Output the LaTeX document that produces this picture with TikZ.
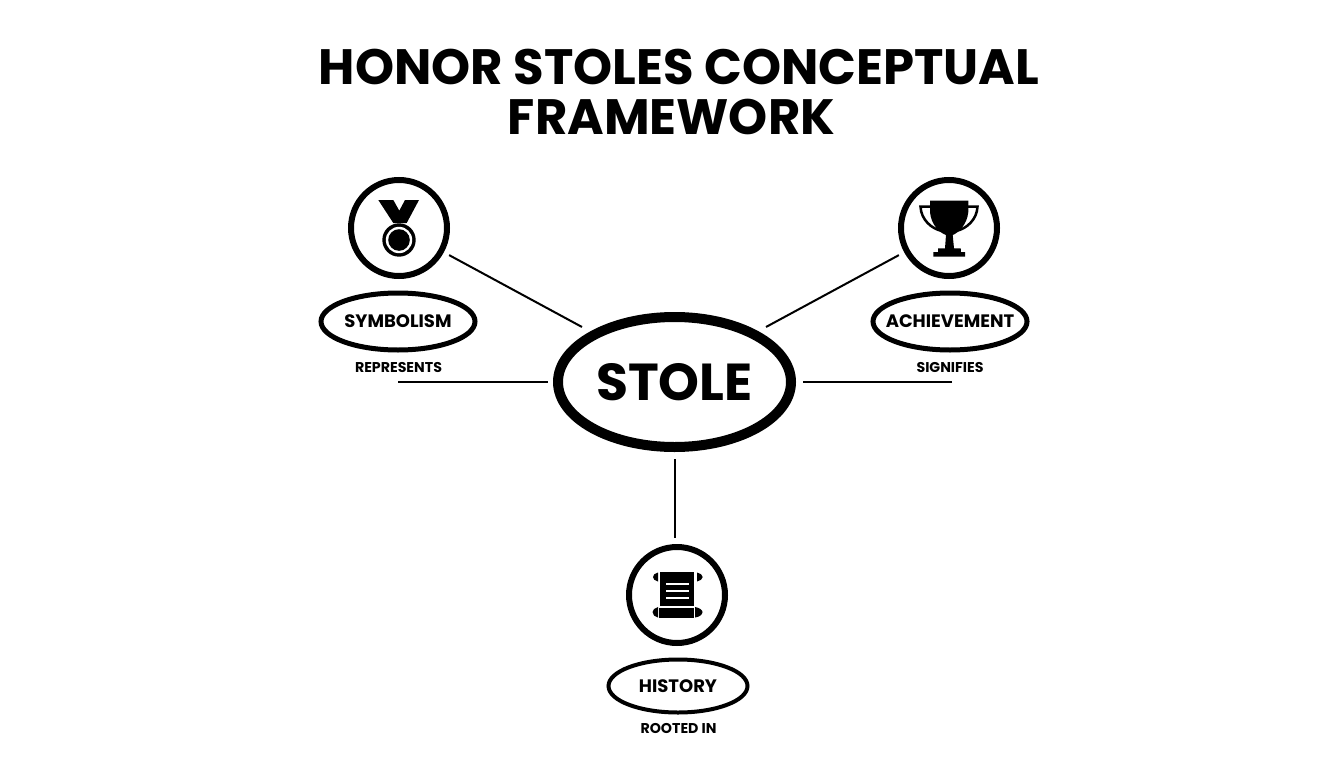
\documentclass[tikz,border=0pt]{standalone}
\usepackage{fontspec}
\setmainfont{Poppins}
\usetikzlibrary{shapes.geometric}
\tikzset{
  x=1pt,y=-1pt,
  link/.style={line width=2pt,black},
  iconring/.style={circle,draw,line width=6pt,minimum size=96pt,inner sep=0pt},
  termoval/.style={ellipse,draw,line width=5pt,inner sep=0pt,font=\bfseries\fontsize{18}{18}\selectfont},
  caption/.style={inner sep=0pt,font=\fontsize{14.2}{15}\selectfont\bfseries}
}
\begin{document}
\begin{tikzpicture}
\useasboundingbox (0,0) rectangle (1344,768);
\node (T1) at (679,67) [inner sep=0pt,font=\bfseries\fontsize{49.7}{50}\selectfont] {HONOR STOLES CONCEPTUAL};
\node (T2) at (671.5,117) [inner sep=0pt,font=\bfseries\fontsize{49.7}{50}\selectfont] {FRAMEWORK};
\node (S) at (674.5,382) [ellipse,draw,line width=10pt,minimum width=233pt,minimum height=130pt,inner sep=0pt,font=\bfseries\fontsize{52}{52}\selectfont] {STOLE};
\node (MC) at (399,228) [iconring] {};
\node (TC) at (949,228) [iconring] {};
\node (RC) at (677,595) [iconring] {};
\node (SY) at (398,321.5) [termoval,minimum width=154pt,minimum height=57pt] {\makebox[0pt]{SYMBOLISM}};
\node (AC) at (950,321.5) [termoval,minimum width=154pt,minimum height=57pt] {\makebox[0pt]{ACHIEVEMENT}};
\node (HI) at (678,686) [termoval,line width=4pt,minimum width=139pt,minimum height=53pt] {\makebox[0pt]{HISTORY}};
\node (RE) at (398.5,367) [caption] {REPRESENTS};
\node (SI) at (950,367) [caption] {SIGNIFIES};
\node (RO) at (678.5,728) [caption] {ROOTED IN};
\coordinate (RL) at (398,382);
\coordinate (RR) at (952,382);
\coordinate (SL) at (582,327);
\coordinate (SR) at (766,327);
\draw [link,shorten <=6pt] (MC) -- (SL);
\draw [link,shorten <=6pt] (TC) -- (SR);
\draw [link,shorten >=5pt] (RL) -- (S.180);
\draw [link,shorten >=7pt] (RR) -- (S.0);
\draw [link,shorten <=7pt,shorten >=6pt] (S.270) -- (S.270 |- RC.90);
% medal
\fill (378.3,200) -- (393.3,200) -- (399.3,210.7) -- (405,200) -- (419,200) -- (406.7,223) -- (393.3,223) -- cycle;
\fill (399,240) circle (16.7);
\fill [white] (399,240) circle (13.2);
\fill (399,240) circle (10.8);
% trophy
\draw [line width=2.5pt] (931,206.5) -- (920.5,206.5) .. controls (921,220) and (932,229) .. (942,231);
\draw [line width=2.5pt] (967,206.5) -- (977.5,206.5) .. controls (977,220) and (966,229) .. (956,231);
\fill (930,200.7) -- (968.3,200.7) -- (968.3,212) .. controls (967,225) and (958,233) .. (952.7,235) -- (954,248.3) -- (960.7,248.3) -- (961,252) -- (965,252) -- (965,256.7) -- (933.3,256.7) -- (933.3,252) -- (938,252) -- (938,248.3) -- (945,248.3) -- (946,235) .. controls (940,233) and (931,225) .. (930,212) -- cycle;
% scroll
\fill (660,571.7) rectangle (694,605.7);
\fill (659.3,607.7) rectangle (694,617.7);
\fill [white] (665.7,582.5) rectangle (689.3,584.5);
\fill [white] (665.7,589.5) rectangle (689.3,591.5);
\fill [white] (665.7,597) rectangle (689.3,599);
\fill (658,572.5) -- (658,581.5) .. controls (655,581) and (653,579) .. (653,577) .. controls (653,575) and (655,573) .. (658,572.5) -- cycle;
\fill (697,572.5) -- (697,581.5) .. controls (700,581) and (702.7,579) .. (702.7,577) .. controls (702.7,575) and (700,573) .. (697,572.5) -- cycle;
\fill (658,607) -- (658,617.5) .. controls (655,617) and (652.5,615) .. (652.5,612) .. controls (652.5,610) and (655,607.5) .. (658,607) -- cycle;
\fill (695,607) -- (695,617.5) .. controls (699,617) and (702.5,615) .. (702.5,612) .. controls (702.5,610) and (699,607.5) .. (695,607) -- cycle;
\end{tikzpicture}
\end{document}
